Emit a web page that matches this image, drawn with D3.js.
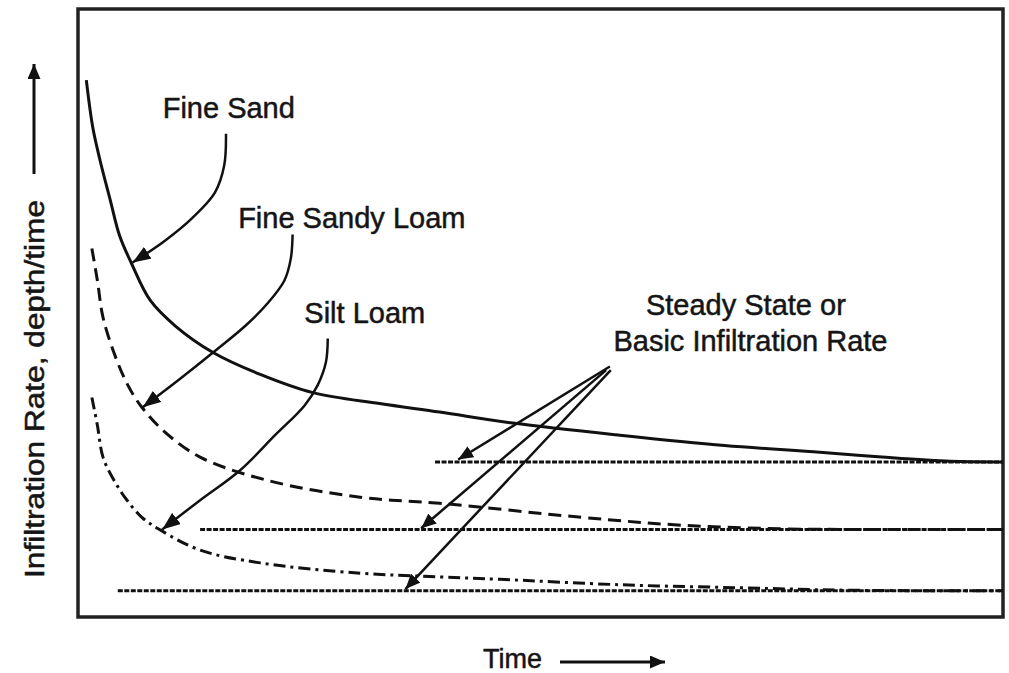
<!DOCTYPE html>
<html>
<head>
<meta charset="utf-8">
<script src="https://cdn.jsdelivr.net/npm/d3@7"></script>
<style>
  body { margin: 0; background: #fff; }
  text { font-family: "Liberation Sans", Arial, sans-serif; fill: #151515; stroke: #151515; stroke-width: 0.5px; }
</style>
</head>
<body>
<svg width="1009" height="673"></svg>
<script>

// infiltration curves, time and rate both in relative units (0-100)
var fineSand = [
  [0.9, 88.3], [1.6, 80.5], [2.4, 75.0], [3.5, 68.5], [4.5, 62.7], [5.8, 58.1],
  [7.8, 52.1], [10.5, 47.9], [14.6, 43.5], [19.7, 39.9], [25.4, 36.9], [32.6, 35.1],
  [39.1, 33.7], [47.0, 31.9], [58.6, 29.9], [69.9, 28.2], [80.2, 27.1], [86.9, 26.3],
  [94.3, 25.6], [100, 25.5]
];
var fineSandyLoam = [
  [1.5, 60.6], [2.1, 55.3], [2.7, 49.3], [4.0, 43.0], [5.4, 38.1], [6.9, 34.5],
  [9.4, 30.4], [13.2, 26.3], [20.4, 22.5], [30.5, 19.7], [39.1, 18.7], [54.4, 16.4],
  [65.2, 15.1], [76.1, 14.5], [86.7, 14.4], [100, 14.4]
];
var siltLoam = [
  [1.5, 36.1], [2.1, 31.5], [2.7, 26.3], [4.0, 22.2], [5.3, 19.2], [6.9, 16.4],
  [8.9, 14.3], [13.2, 11.0], [19.7, 8.9], [30.5, 7.2], [39.1, 6.6], [45.6, 6.2],
  [58.7, 5.3], [71.7, 4.8], [83.5, 4.4], [100, 4.3]
];

// basic infiltration rate of each soil: [start time, rate]
var steadyRates = [[38.6, 25.5], [13.2, 14.4], [4.3, 4.3]];

var soilNames = ["Fine Sand", "Fine Sandy Loam", "Silt Loam"];
var soilLabelAt = [[16.3, 82.1], [29.6, 63.9], [31.0, 48.3]];

// curved leaders from the soil names to their curves
var soilLeaders = [
  [[16.0, 79.5], [15.8, 74.2], [14.8, 69.8], [12.4, 65.7], [9.4, 61.9], [5.9, 58.3]],
  [[23.2, 62.9], [23.0, 58.9], [22.3, 55.3], [20.5, 51.6], [18.1, 47.9], [14.6, 43.5], [10.8, 38.9], [7.0, 34.5]],
  [[27.0, 45.8], [26.8, 41.9], [25.9, 38.1], [24.5, 34.8], [21.3, 29.9], [17.5, 24.1], [13.2, 19.2], [9.1, 14.4]]
];

var steadyNote = ["Steady State or", "Basic Infiltration Rate"];
var steadyNoteAt = [[72.2, 49.6], [72.7, 43.7]];
var steadyLeaders = [
  [[57.5, 41.2], [41.1, 25.9]],
  [[57.1, 40.6], [37.1, 14.6]],
  [[57.6, 40.6], [35.4, 4.6]]
];

var xTitle = "Time";
var yTitle = "Infiltration Rate, depth/time";

var svg = d3.select("svg");
var margin = {top: 9, right: 6, bottom: 56, left: 78},
    width = +svg.attr("width") - margin.left - margin.right,
    height = +svg.attr("height") - margin.top - margin.bottom;

var x = d3.scaleLinear().domain([0, 100]).range([margin.left, margin.left + width]),
    y = d3.scaleLinear().domain([0, 100]).range([margin.top + height, margin.top]);

var line = d3.line()
    .curve(d3.curveCatmullRom)
    .x(function(d) { return x(d[0]); })
    .y(function(d) { return y(d[1]); });

var defs = svg.append("defs");
function arrowMarker(id, len, half) {
  defs.append("marker")
      .attr("id", id)
      .attr("markerUnits", "userSpaceOnUse")
      .attr("viewBox", "0 " + (-half) + " " + len + " " + (2 * half))
      .attr("markerWidth", len)
      .attr("markerHeight", 2 * half)
      .attr("refX", len)
      .attr("refY", 0)
      .attr("orient", "auto")
    .append("path")
      .attr("d", "M0," + (-half) + "L" + len + ",0L0," + half + "Z")
      .attr("fill", "#111");
}
arrowMarker("head", 18, 7);
arrowMarker("headSmall", 15, 6.5);

// frame
svg.append("rect")
    .attr("x", x(0))
    .attr("y", y(100))
    .attr("width", x(100) - x(0))
    .attr("height", y(0) - y(100))
    .attr("fill", "none")
    .attr("stroke", "#222")
    .attr("stroke-width", 3.5);

// steady state lines
svg.selectAll(".steady")
    .data(steadyRates)
  .enter().append("line")
    .attr("class", "steady")
    .attr("x1", function(d) { return x(d[0]); })
    .attr("x2", x(100))
    .attr("y1", function(d) { return y(d[1]); })
    .attr("y2", function(d) { return y(d[1]); })
    .attr("stroke", "#111")
    .attr("stroke-width", 3)
    .attr("stroke-dasharray", "5,1.5");

// soil curves
var curves = [
  {values: fineSand, dash: null},
  {values: fineSandyLoam, dash: "13,7"},
  {values: siltLoam, dash: "12,5,3,5"}
];
svg.selectAll(".soil")
    .data(curves)
  .enter().append("path")
    .attr("class", "soil")
    .attr("d", function(d) { return line(d.values); })
    .attr("fill", "none")
    .attr("stroke", "#111")
    .attr("stroke-width", 3)
    .attr("stroke-dasharray", function(d) { return d.dash; });

// leaders
svg.selectAll(".leader")
    .data(soilLeaders)
  .enter().append("path")
    .attr("class", "leader")
    .attr("d", line)
    .attr("fill", "none")
    .attr("stroke", "#111")
    .attr("stroke-width", 2.5)
    .attr("marker-end", "url(#head)");

svg.selectAll(".steadyLeader")
    .data(steadyLeaders)
  .enter().append("path")
    .attr("class", "steadyLeader")
    .attr("d", d3.line().x(function(d) { return x(d[0]); }).y(function(d) { return y(d[1]); }))
    .attr("fill", "none")
    .attr("stroke", "#111")
    .attr("stroke-width", 2.5)
    .attr("marker-end", "url(#headSmall)");

// labels
svg.selectAll(".soilLabel")
    .data(soilNames)
  .enter().append("text")
    .attr("class", "soilLabel")
    .attr("x", function(d, i) { return x(soilLabelAt[i][0]); })
    .attr("y", function(d, i) { return y(soilLabelAt[i][1]); })
    .attr("text-anchor", "middle")
    .style("font-size", "29px")
    .text(function(d) { return d; });

svg.selectAll(".steadyLabel")
    .data(steadyNote)
  .enter().append("text")
    .attr("class", "steadyLabel")
    .attr("x", function(d, i) { return x(steadyNoteAt[i][0]); })
    .attr("y", function(d, i) { return y(steadyNoteAt[i][1]); })
    .attr("text-anchor", "middle")
    .style("font-size", "29px")
    .text(function(d) { return d; });

// axis titles with arrows
svg.append("text")
    .attr("x", 483)
    .attr("y", 668)
    .style("font-size", "27px")
    .text(xTitle);
svg.append("line")
    .attr("x1", 560).attr("x2", 665)
    .attr("y1", 662).attr("y2", 662)
    .attr("stroke", "#111")
    .attr("stroke-width", 3)
    .attr("marker-end", "url(#headSmall)");

svg.append("text")
    .attr("transform", "translate(44,389) rotate(-90)")
    .attr("text-anchor", "middle")
    .attr("textLength", 378)
    .attr("lengthAdjust", "spacingAndGlyphs")
    .style("font-size", "27px")
    .text(yTitle);
svg.append("line")
    .attr("x1", 34).attr("x2", 34)
    .attr("y1", 174).attr("y2", 64)
    .attr("stroke", "#111")
    .attr("stroke-width", 3)
    .attr("marker-end", "url(#headSmall)");

</script>
</body>
</html>
